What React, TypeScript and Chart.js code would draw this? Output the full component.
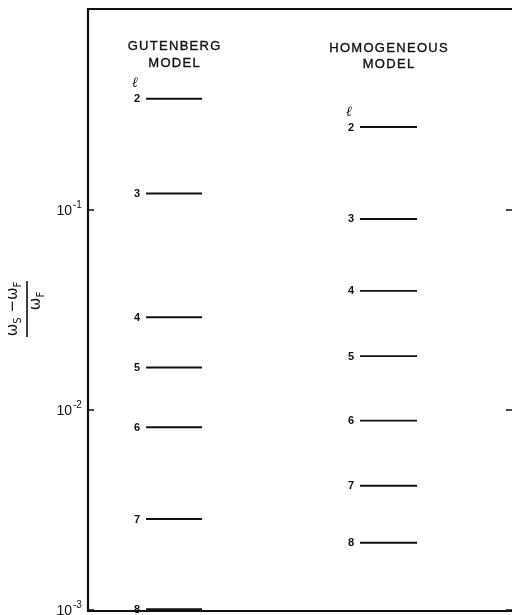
import React, { useEffect, useRef } from "react";
import { Chart, registerables } from "chart.js";

Chart.register(...registerables);

// ---- data ----
const models = ["GUTENBERG", "HOMOGENEOUS"];
const degrees = [2, 3, 4, 5, 6, 7, 8];
const gutenbergValues = [0.36, 0.121, 0.0291, 0.0163, 0.0082, 0.00285, 0.00101];
const homogeneousValues = [0.26, 0.0902, 0.0394, 0.0186, 0.00885, 0.00418, 0.00217];
const yTickValues = [0.001, 0.01, 0.1];
const yTickExponents = ["-3", "-2", "-1"];

// ---- layout constants (x in axis units 0..1) ----
const SEGMENTS = [
  { x0: 0.137, x1: 0.269, headerDy: 0 },
  { x0: 0.6415, x1: 0.776, headerDy: 2 },
];
const INK = "#111";

function segData(values: number[], x0: number, x1: number) {
  const out: { x: number; y: number | null }[] = [];
  values.forEach((v) => {
    out.push({ x: x0, y: v });
    out.push({ x: x1, y: v });
    out.push({ x: x1, y: null });
  });
  return out;
}

function drawPieces(
  ctx: CanvasRenderingContext2D,
  pieces: [string, boolean][],
  cx: number,
  baseline: number,
  mainFont: string,
  subFont: string,
  subDrop: number
) {
  let w = 0;
  const widths = pieces.map(([t, sub]) => {
    ctx.font = sub ? subFont : mainFont;
    const m = ctx.measureText(t).width;
    w += m;
    return m;
  });
  let x = cx - w / 2;
  ctx.textAlign = "left";
  ctx.textBaseline = "alphabetic";
  pieces.forEach(([t, sub], i) => {
    ctx.font = sub ? subFont : mainFont;
    ctx.fillText(t, x, baseline + (sub ? subDrop : 0));
    x += widths[i];
  });
}

const figurePlugin = {
  id: "figure",
  afterDraw(chart: any) {
    const ctx: CanvasRenderingContext2D = chart.ctx;
    const { left, right, top, bottom } = chart.chartArea;
    const xs = chart.scales.x;
    const ys = chart.scales.y;
    ctx.save();
    ctx.strokeStyle = INK;
    ctx.fillStyle = INK;

    // frame
    ctx.lineWidth = 2.2;
    ctx.beginPath();
    ctx.moveTo(right + 2, top - 1);
    ctx.lineTo(left, top - 1);
    ctx.lineTo(left, bottom + 1);
    ctx.lineTo(right + 2, bottom + 1);
    ctx.stroke();

    // ticks + labels
    ctx.lineWidth = 1.6;
    yTickValues.forEach((v, i) => {
      const y = ys.getPixelForValue(v);
      ctx.beginPath();
      ctx.moveTo(left, y);
      ctx.lineTo(left + 6, y);
      ctx.moveTo(right, y);
      ctx.lineTo(right - 6, y);
      ctx.stroke();
      ctx.textAlign = "right";
      ctx.textBaseline = "alphabetic";
      ctx.font = "14px 'Liberation Sans', Arial, sans-serif";
      const base = y + 5;
      ctx.fillText("10", left - 16, base);
      ctx.textAlign = "left";
      ctx.font = "10px 'Liberation Sans', Arial, sans-serif";
      ctx.fillText(yTickExponents[i], left - 15, base - 7);
    });

    // headers, ell, degree labels
    const seriesList = [gutenbergValues, homogeneousValues];
    SEGMENTS.forEach((s, k) => {
      const px0 = xs.getPixelForValue(s.x0);
      const px1 = xs.getPixelForValue(s.x1);
      const cx = (px0 + px1) / 2;
      ctx.textAlign = "center";
      ctx.textBaseline = "alphabetic";
      ctx.font = "13px 'Liberation Sans', Arial, sans-serif";
      (ctx as any).letterSpacing = "1.3px";
      ctx.lineWidth = 0.35;
      ctx.fillText(models[k], cx + 0.6, 50 + s.headerDy);
      ctx.strokeText(models[k], cx + 0.6, 50 + s.headerDy);
      ctx.fillText("MODEL", cx + 0.6, 67 + s.headerDy / 2);
      ctx.strokeText("MODEL", cx + 0.6, 67 + s.headerDy / 2);
      (ctx as any).letterSpacing = "0px";

      const vals = seriesList[k];
      ctx.font = "bold 11px 'Liberation Sans', Arial, sans-serif";
      ctx.textAlign = "right";
      ctx.textBaseline = "middle";
      vals.forEach((v, i) => {
        const y = ys.getPixelForValue(v);
        ctx.fillText(String(degrees[i]), px0 - 6, y + 0.5);
      });
      // ell symbol above first label
      const y0 = ys.getPixelForValue(vals[0]);
      ctx.font = "italic bold 14px 'DejaVu Serif', serif";
      ctx.textAlign = "center";
      ctx.fillText("ℓ", px0 - 11, y0 - 15);
    });

    // y-axis title: (ωS − ωF) / ωF rotated
    ctx.translate(27, 309);
    ctx.rotate(-Math.PI / 2);
    ctx.lineWidth = 1.6;
    ctx.beginPath();
    ctx.moveTo(-28, 0);
    ctx.lineTo(28, 0);
    ctx.stroke();
    const mainF = "15px 'DejaVu Sans', sans-serif";
    const subF = "10px 'DejaVu Sans', sans-serif";
    drawPieces(ctx, [["ω", false], ["S", true], [" −ω", false], ["F", true]], 0, -10, mainF, subF, 4);
    drawPieces(ctx, [["ω", false], ["F", true]], 8, 13, mainF, subF, 4);

    ctx.restore();
  },
};

export default function App() {
  const ref = useRef<HTMLCanvasElement>(null);
  useEffect(() => {
    const canvas = ref.current!;
    const chart = new Chart(canvas, {
      type: "line",
      data: {
        datasets: [
          {
            label: models[0],
            data: segData(gutenbergValues, SEGMENTS[0].x0, SEGMENTS[0].x1) as any,
            borderColor: INK,
            borderWidth: 1.9,
            pointRadius: 0,
            spanGaps: false,
            tension: 0,
          },
          {
            label: models[1],
            data: segData(homogeneousValues, SEGMENTS[1].x0, SEGMENTS[1].x1) as any,
            borderColor: INK,
            borderWidth: 1.9,
            pointRadius: 0,
            spanGaps: false,
            tension: 0,
          },
        ],
      },
      options: {
        responsive: false,
        animation: false,
        events: [],
        layout: { padding: { left: 88, top: 10, right: 0, bottom: 5 } },
        scales: {
          x: { type: "linear", min: 0, max: 1, display: false },
          y: { type: "logarithmic", min: 0.001, max: 1, display: false },
        },
        plugins: { legend: { display: false }, tooltip: { enabled: false } },
      },
      plugins: [figurePlugin as any],
    });
    return () => chart.destroy();
  }, []);
  return (
    <div style={{ position: "fixed", left: 0, top: 0, width: 512, height: 615, background: "#fff" }}>
      <canvas ref={ref} width={512} height={615} style={{ display: "block" }} />
    </div>
  );
}
